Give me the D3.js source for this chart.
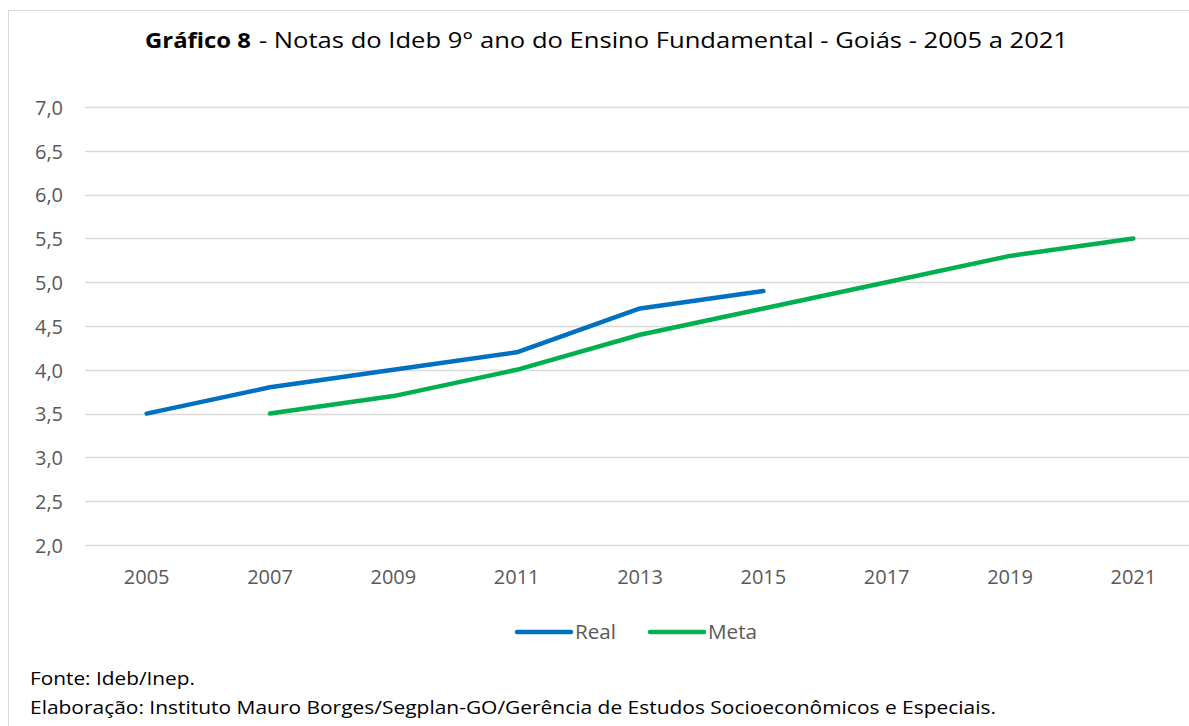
<!DOCTYPE html>
<html>
<head>
<meta charset="utf-8">
<script src="https://cdn.jsdelivr.net/npm/d3@7"></script>
<style>
  html, body { margin: 0; padding: 0; background: #fff; }
  svg { display: block; }
  text { font-family: "Open Sans", Lato, sans-serif; }
</style>
</head>
<body>
<svg id="chart" width="1189" height="726"></svg>
<script>
const years = ["2005","2007","2009","2011","2013","2015","2017","2019","2021"];
const realValues = [3.5, 3.8, 4.0, 4.2, 4.7, 4.9, null, null, null];
const metaValues = [null, 3.5, 3.7, 4.0, 4.4, 4.7, 5.0, 5.3, 5.5];
const yTicks = [2.0, 2.5, 3.0, 3.5, 4.0, 4.5, 5.0, 5.5, 6.0, 6.5, 7.0];
const seriesNames = ["Real", "Meta"];
const titleBold = "Gráfico 8";
const titleRest = "- Notas do Ideb 9° ano do Ensino Fundamental - Goiás - 2005 a 2021";
const sourceLines = ["Fonte: Ideb/Inep.", "Elaboração: Instituto Mauro Borges/Segplan-GO/Gerência de Estudos Socioeconômicos e Especiais."];

const colors = { Real: "#0070C0", Meta: "#00B050" };

const svg = d3.select("#chart");
const W = 1189, H = 726;

// outer border
svg.append("rect").attr("x", 8.5).attr("y", 10.5).attr("width", W + 10).attr("height", H + 10)
  .attr("fill", "#fff").attr("stroke", "#D9D9D9").attr("stroke-width", 1);

const x = d3.scaleBand().domain(years).range([85, 1195]);
const y = d3.scaleLinear().domain([2, 7]).range([545, 107]);

// gridlines
svg.append("g").selectAll("line").data(yTicks).join("line")
  .attr("x1", 85).attr("x2", 1195)
  .attr("y1", d => Math.round(y(d)) + 0.5).attr("y2", d => Math.round(y(d)) + 0.5)
  .attr("stroke", "#D9D9D9").attr("stroke-width", 1.3);

// y axis labels
const yAxis = d3.axisLeft(y).tickValues(yTicks).tickSize(0).tickPadding(0)
  .tickFormat(d => d3.format(".1f")(d).replace(".", ","));
const gy = svg.append("g").attr("transform", "translate(63,0)").call(yAxis);
gy.select(".domain").remove();
gy.selectAll("text").attr("fill", "#595959").attr("dy", "0.36em")
  .style("font-size", "20px").style("font-family", "'Open Sans', sans-serif");

// x axis labels
const xAxis = d3.axisBottom(x).tickSize(0).tickPadding(0);
const gx = svg.append("g").attr("transform", "translate(0,565)").call(xAxis);
gx.select(".domain").remove();
gx.selectAll("text").attr("fill", "#595959").attr("dy", null).attr("y", 19)
  .style("font-size", "20px").style("font-family", "'Open Sans', sans-serif");

// lines
const series = [
  { name: "Real", values: realValues },
  { name: "Meta", values: metaValues }
];
const line = d3.line()
  .defined(d => d.v !== null)
  .x(d => x(d.year) + x.bandwidth() / 2)
  .y(d => y(d.v));
svg.append("g").selectAll("path").data(series).join("path")
  .attr("d", s => line(years.map((yr, i) => ({ year: yr, v: s.values[i] }))))
  .attr("fill", "none")
  .attr("stroke", s => colors[s.name])
  .attr("stroke-width", 4.5)
  .attr("stroke-linecap", "round")
  .attr("stroke-linejoin", "round");

// title
svg.append("text").attr("x", 145).attr("y", 48)
  .attr("font-weight", "bold").style("font-size", "22px").attr("fill", "#000")
  .attr("textLength", 106).attr("lengthAdjust", "spacingAndGlyphs")
  .text(titleBold);
svg.append("text").attr("x", 259).attr("y", 48)
  .style("font-size", "22px").attr("fill", "#000")
  .attr("textLength", 809).attr("lengthAdjust", "spacingAndGlyphs")
  .text(titleRest);

// legend
const legendItems = [
  { name: "Real", x0: 517, tl: 41 },
  { name: "Meta", x0: 650, tl: 49 }
];
const lg = svg.append("g");
legendItems.forEach(it => {
  lg.append("line").attr("x1", it.x0).attr("x2", it.x0 + 54).attr("y1", 632).attr("y2", 632)
    .attr("stroke", colors[it.name]).attr("stroke-width", 4.5).attr("stroke-linecap", "round");
  lg.append("text").attr("x", it.x0 + 58).attr("y", 639).text(it.name)
    .attr("fill", "#595959").style("font-size", "20px")
    .attr("textLength", it.tl).attr("lengthAdjust", "spacingAndGlyphs");
});

// source text
const srcLen = [165, 966];
svg.append("g").selectAll("text").data(sourceLines).join("text")
  .attr("x", 30).attr("y", (d, i) => 685 + i * 29)
  .attr("fill", "#000").style("font-size", "18px")
  .attr("textLength", (d, i) => srcLen[i]).attr("lengthAdjust", "spacingAndGlyphs")
  .text(d => d);
</script>
</body>
</html>
